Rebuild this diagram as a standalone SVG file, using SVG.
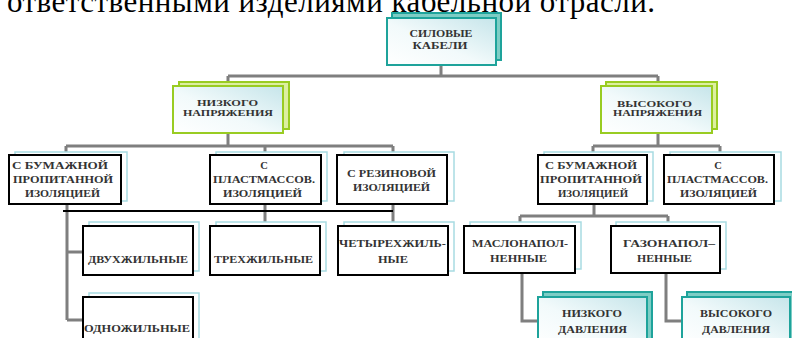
<svg xmlns="http://www.w3.org/2000/svg" width="792" height="338" viewBox="0 0 792 338">
<defs>
<linearGradient id="gf" x1="0" y1="1" x2="1" y2="0">
<stop offset="0" stop-color="#ffffff"/>
<stop offset="0.45" stop-color="#f2fafb"/>
<stop offset="1" stop-color="#c6e5ea"/>
</linearGradient>
<style>
.conn{stroke:#7f7f7f;stroke-width:3;fill:none}
.blk{stroke:#000;stroke-width:2;fill:none}
.bk{fill:#fff;stroke:#a8dbe2;stroke-width:1.5}
.fr{fill:#fff;stroke:#000;stroke-width:2}
.lb{fill:#ddefa0;stroke:#99cc22;stroke-width:2}
.lf{fill:url(#gf);stroke:#99cc22;stroke-width:2}
.tb{fill:#7dcdc5;stroke:#1ea39b;stroke-width:2}
.tf{fill:url(#gf);stroke:#1ea39b;stroke-width:2}
text{font-family:"Liberation Serif","Times New Roman",serif;font-weight:bold;fill:#333;text-anchor:middle}
.s8{font-size:8px}
.s9{font-size:9.5px}
.s10{font-size:10.5px}
.hd{font-family:"Liberation Serif","Times New Roman",serif;font-weight:normal;fill:#000;font-size:31px;text-anchor:start}
</style>
</defs>
<rect width="792" height="338" fill="#fff"/>
<text class="hd" x="7" y="11.5" textLength="648">ответственными изделиями кабельной отрасли.</text>

<g id="connectors">
<path class="conn" d="M441 65V76M228 76H658M228 76V86M658 76V86"/>
<path class="conn" d="M228 133V146M66 146H393M66 146V155M265 146V155M393 146V155"/>
<path class="conn" d="M658 133V146M593 146H720M593 146V155M720 146V155"/>
<path class="conn" d="M67 204V320M67 252H83M67 320H83M265 204V226M393 204V226"/>
<path class="blk" d="M63 211H393"/>
<path class="conn" d="M594 204V216M520 216H668M520 216V226M668 216V226"/>
<path class="conn" d="M522 273V321H540M666 273V321H683"/>
</g>

<g id="n-silovye">
<rect class="tb" x="392" y="13" width="109" height="47"/>
<rect class="tf" x="387" y="18" width="109" height="47"/>
<text class="s9" x="441" y="37" textLength="63" lengthAdjust="spacingAndGlyphs">СИЛОВЫЕ</text>
<text class="s9" x="440" y="49" textLength="55" lengthAdjust="spacingAndGlyphs">КАБЕЛИ</text>
</g>

<g id="n-nizkogo-napr">
<rect class="lb" x="179" y="82" width="110" height="47"/>
<rect class="lf" x="173" y="86" width="110" height="47"/>
<text class="s8" x="227.5" y="106" textLength="61" lengthAdjust="spacingAndGlyphs">НИЗКОГО</text>
<text class="s8" x="228" y="116" textLength="90" lengthAdjust="spacingAndGlyphs">НАПРЯЖЕНИЯ</text>
</g>

<g id="n-vysokogo-napr">
<rect class="lb" x="606" y="82" width="111" height="47"/>
<rect class="lf" x="601" y="86" width="111" height="47"/>
<text class="s8" x="654.5" y="107" textLength="75" lengthAdjust="spacingAndGlyphs">ВЫСОКОГО</text>
<text class="s8" x="657.5" y="116" textLength="89" lengthAdjust="spacingAndGlyphs">НАПРЯЖЕНИЯ</text>
</g>

<g id="n-l-bumazh">
<rect class="bk" x="15" y="152" width="112" height="49"/>
<rect class="fr" x="9" y="155" width="112" height="49"/>
<text class="s10" x="60" y="169" textLength="96" lengthAdjust="spacingAndGlyphs">С БУМАЖНОЙ</text>
<text class="s10" x="63" y="183" textLength="100" lengthAdjust="spacingAndGlyphs">ПРОПИТАННОЙ</text>
<text class="s10" x="62.5" y="197" textLength="75" lengthAdjust="spacingAndGlyphs">ИЗОЛЯЦИЕЙ</text>
</g>

<g id="n-l-plast">
<rect class="bk" x="216" y="152" width="111" height="49"/>
<rect class="fr" x="210" y="155" width="111" height="49"/>
<text class="s10" x="264" y="169">С</text>
<text class="s10" x="264" y="183" textLength="102" lengthAdjust="spacingAndGlyphs">ПЛАСТМАССОВ.</text>
<text class="s10" x="262.5" y="197" textLength="79" lengthAdjust="spacingAndGlyphs">ИЗОЛЯЦИЕЙ</text>
</g>

<g id="n-l-rezin">
<rect class="bk" x="344" y="152" width="110" height="49"/>
<rect class="fr" x="337" y="155" width="110" height="49"/>
<text class="s10" x="391.5" y="177" textLength="89" lengthAdjust="spacingAndGlyphs">С РЕЗИНОВОЙ</text>
<text class="s10" x="391.5" y="191" textLength="77" lengthAdjust="spacingAndGlyphs">ИЗОЛЯЦИЕЙ</text>
</g>

<g id="n-r-bumazh">
<rect class="bk" x="544" y="152" width="109" height="49"/>
<rect class="fr" x="538" y="155" width="109" height="49"/>
<text class="s10" x="591" y="169" textLength="92" lengthAdjust="spacingAndGlyphs">С БУМАЖНОЙ</text>
<text class="s10" x="591" y="183" textLength="102" lengthAdjust="spacingAndGlyphs">ПРОПИТАННОЙ</text>
<text class="s10" x="593" y="197" textLength="70" lengthAdjust="spacingAndGlyphs">ИЗОЛЯЦИЕЙ</text>
</g>

<g id="n-r-plast">
<rect class="bk" x="670" y="152" width="111" height="49"/>
<rect class="fr" x="664" y="155" width="110" height="49"/>
<text class="s10" x="718" y="169">С</text>
<text class="s10" x="717.5" y="183" textLength="101" lengthAdjust="spacingAndGlyphs">ПЛАСТМАССОВ.</text>
<text class="s10" x="718.5" y="197" textLength="77" lengthAdjust="spacingAndGlyphs">ИЗОЛЯЦИЕЙ</text>
</g>

<g id="n-dvuh">
<rect class="bk" x="89" y="222" width="110" height="49"/>
<rect class="fr" x="83" y="226" width="110" height="49"/>
<text class="s10" x="138" y="263" textLength="100" lengthAdjust="spacingAndGlyphs">ДВУХЖИЛЬНЫЕ</text>
</g>

<g id="n-treh">
<rect class="bk" x="216" y="222" width="110" height="49"/>
<rect class="fr" x="210" y="226" width="110" height="49"/>
<text class="s10" x="263.5" y="263" textLength="99" lengthAdjust="spacingAndGlyphs">ТРЕХЖИЛЬНЫЕ</text>
</g>

<g id="n-chetyreh">
<rect class="bk" x="344" y="222" width="110" height="49"/>
<rect class="fr" x="338" y="226" width="110" height="49"/>
<text class="s10" x="392.5" y="247" textLength="107" lengthAdjust="spacingAndGlyphs">ЧЕТЫРЕХЖИЛЬ-</text>
<text class="s10" x="393" y="263" textLength="30" lengthAdjust="spacingAndGlyphs">НЫЕ</text>
</g>

<g id="n-odno">
<rect class="bk" x="89" y="293" width="110" height="49"/>
<rect class="fr" x="83" y="297" width="110" height="49"/>
<text class="s10" x="137" y="331.5" textLength="106" lengthAdjust="spacingAndGlyphs">ОДНОЖИЛЬНЫЕ</text>
</g>

<g id="n-maslo">
<rect class="bk" x="470" y="222" width="111" height="47"/>
<rect class="fr" x="464" y="226" width="111" height="47"/>
<text class="s10" x="520" y="247" textLength="96" lengthAdjust="spacingAndGlyphs">МАСЛОНАПОЛ-</text>
<text class="s10" x="518.5" y="261.5" textLength="57" lengthAdjust="spacingAndGlyphs">НЕННЫЕ</text>
</g>

<g id="n-gazo">
<rect class="bk" x="616" y="222" width="110" height="47"/>
<rect class="fr" x="611" y="226" width="109" height="47"/>
<text class="s10" x="669" y="247" textLength="92" lengthAdjust="spacingAndGlyphs">ГАЗОНАПОЛ–</text>
<text class="s10" x="664.5" y="261.5" textLength="55" lengthAdjust="spacingAndGlyphs">НЕННЫЕ</text>
</g>

<g id="n-nizk-davl">
<rect class="tb" x="543" y="292" width="109" height="50"/>
<rect class="tf" x="538" y="297" width="109" height="50"/>
<text class="s10" x="592" y="317" textLength="60" lengthAdjust="spacingAndGlyphs">НИЗКОГО</text>
<text class="s10" x="592.5" y="333" textLength="69" lengthAdjust="spacingAndGlyphs">ДАВЛЕНИЯ</text>
</g>

<g id="n-vys-davl">
<rect class="tb" x="687" y="292" width="108" height="50"/>
<rect class="tf" x="682" y="297" width="108" height="50"/>
<text class="s10" x="736" y="317" textLength="72" lengthAdjust="spacingAndGlyphs">ВЫСОКОГО</text>
<text class="s10" x="736" y="333" textLength="68" lengthAdjust="spacingAndGlyphs">ДАВЛЕНИЯ</text>
</g>
</svg>
